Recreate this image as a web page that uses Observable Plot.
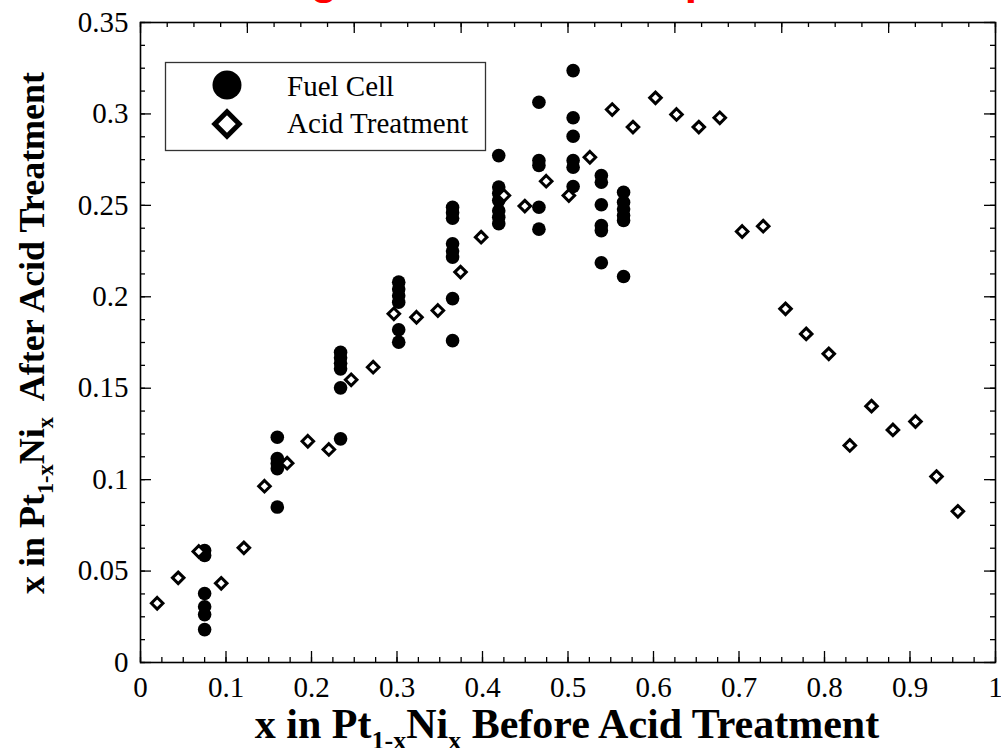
<!DOCTYPE html>
<html>
<head>
<meta charset="utf-8">
<script src="https://cdn.jsdelivr.net/npm/d3@7"></script>
<script src="https://cdn.jsdelivr.net/npm/@observablehq/plot@0.6"></script>
<style>
  html, body { margin: 0; padding: 0; background: white; }
  #chart { position: relative; width: 1001px; height: 748px; overflow: hidden; }
</style>
</head>
<body>
<div id="chart"></div>
<script>
// ---- data ----
const titleText = "Ni Leaching from Pt-Ni Nanoparticles";
const seriesNames = ["Fuel Cell", "Acid Treatment"];

// Fuel Cell: x before acid treatment, y after
const fuelX = [
  0.075, 0.075, 0.075, 0.075, 0.075, 0.075,
  0.160, 0.160, 0.160, 0.160, 0.160,
  0.234, 0.234, 0.234, 0.234, 0.234, 0.234,
  0.302, 0.302, 0.302, 0.302, 0.302, 0.302,
  0.365, 0.365, 0.365, 0.365, 0.365, 0.365, 0.365, 0.365,
  0.419, 0.419, 0.419, 0.419, 0.419, 0.419, 0.419,
  0.466, 0.466, 0.466, 0.466, 0.466,
  0.506, 0.506, 0.506, 0.506, 0.506, 0.506,
  0.539, 0.539, 0.539, 0.539, 0.539, 0.539,
  0.565, 0.565, 0.565, 0.565, 0.565, 0.565
];
const fuelY = [
  0.0612, 0.0585, 0.0377, 0.0305, 0.0262, 0.018,
  0.1232, 0.1115, 0.1088, 0.106, 0.085,
  0.1697, 0.1666, 0.1637, 0.1606, 0.1502, 0.1223,
  0.208, 0.2042, 0.2005, 0.197, 0.182, 0.1752,
  0.249, 0.246, 0.243, 0.229, 0.225, 0.2217, 0.199, 0.176,
  0.2772, 0.260, 0.2565, 0.2526, 0.247, 0.2435, 0.240,
  0.3064, 0.2745, 0.2718, 0.249, 0.237,
  0.3237, 0.2979, 0.2878, 0.2745, 0.2709, 0.2603,
  0.2663, 0.2627, 0.2503, 0.239, 0.2362, 0.2186,
  0.2572, 0.2517, 0.248, 0.2444, 0.2417, 0.2111
];

// Acid Treatment
const acidX = [
  0.0195, 0.0441, 0.0682, 0.0944, 0.1209, 0.145, 0.1715, 0.1957, 0.2203, 0.2464,
  0.2721, 0.2963, 0.3228, 0.3478, 0.3743, 0.3984, 0.425, 0.4495, 0.4745, 0.501,
  0.5256, 0.5517, 0.576, 0.6023, 0.6269, 0.653, 0.6775, 0.7037, 0.7283, 0.7544,
  0.7786, 0.805, 0.8296, 0.855, 0.880, 0.9064, 0.931, 0.956
];
const acidY = [
  0.0324, 0.0463, 0.0607, 0.0433, 0.0627, 0.0964, 0.109, 0.121, 0.1165, 0.1546,
  0.1615, 0.1907, 0.1888, 0.1925, 0.2135, 0.2326, 0.2554, 0.2496, 0.2632, 0.2554,
  0.2763, 0.3024, 0.2928, 0.3088, 0.2997, 0.2928, 0.2979, 0.2357, 0.2386, 0.1934,
  0.1797, 0.1688, 0.1187, 0.1402, 0.1272, 0.1318, 0.1017, 0.0827
];

// axis ticks
const xTickValues = [0, 0.1, 0.2, 0.3, 0.4, 0.5, 0.6, 0.7, 0.8, 0.9, 1];
const xTickLabels = ["0", "0.1", "0.2", "0.3", "0.4", "0.5", "0.6", "0.7", "0.8", "0.9", "1"];
const yTickValues = [0, 0.05, 0.1, 0.15, 0.2, 0.25, 0.3, 0.35];
const yTickLabels = ["0", "0.05", "0.1", "0.15", "0.2", "0.25", "0.3", "0.35"];
const xMinorBottom = d3.range(0, 41).map(i => i / 40);
const xMajorTop = d3.range(0, 9).map(i => i / 8);
const xMinorTop = d3.range(0, 33).map(i => i / 32);
const yMinor = d3.range(0, 29).map(i => i * 0.0125);

// ---- build ----
const W = 1001, H = 748;
const mL = 140, mR = 6, mT = 22, mB = 86;
const pw = W - mL - mR, ph = H - mT - mB;
const fuel = fuelX.map((x, i) => ({x, y: fuelY[i]}));
const acid = acidX.map((x, i) => ({x, y: acidY[i]}));
const serif = "'Liberation Serif', 'Times New Roman', serif";

const plot = Plot.plot({
  width: W, height: H,
  marginLeft: mL, marginRight: mR, marginTop: mT, marginBottom: mB,
  style: {fontFamily: serif, fontSize: "29px", color: "black", background: "white", overflow: "visible"},
  x: {domain: [0, 1]},
  y: {domain: [0, 0.35]},
  marks: [
    // tick marks (inward)
    Plot.tickX(xMinorBottom, {x: d => d, insetTop: ph - 5, stroke: "black", strokeWidth: 1.3}),
    Plot.tickX(xTickValues, {x: d => d, insetTop: ph - 11, stroke: "black", strokeWidth: 1.3}),
    Plot.tickX(xMinorTop, {x: d => d, insetBottom: ph - 5, stroke: "black", strokeWidth: 1.3}),
    Plot.tickX(xMajorTop, {x: d => d, insetBottom: ph - 11, stroke: "black", strokeWidth: 1.3}),
    Plot.tickY(yMinor, {y: d => d, insetRight: pw - 5, stroke: "black", strokeWidth: 1.3}),
    Plot.tickY(yTickValues, {y: d => d, insetRight: pw - 11, stroke: "black", strokeWidth: 1.3}),
    Plot.tickY(yMinor, {y: d => d, insetLeft: pw - 5, stroke: "black", strokeWidth: 1.3}),
    Plot.tickY(yTickValues, {y: d => d, insetLeft: pw - 11, stroke: "black", strokeWidth: 1.3}),
    Plot.axisX(xTickValues, {tickSize: 0, tickPadding: 14, tickFormat: (d, i) => xTickLabels[i], label: null}),
    Plot.axisY(yTickValues, {tickSize: 0, tickPadding: 12, tickFormat: (d, i) => yTickLabels[i], label: null}),
    Plot.frame({stroke: "black", strokeWidth: 1.6}),
    Plot.dot(fuel, {x: "x", y: "y", r: 6.8, fill: "black", stroke: "none"}),
    Plot.dot(acid, {x: "x", y: "y", r: 5.2, symbol: "diamond2", fill: "white", stroke: "black", strokeWidth: 3})
  ]
});

document.getElementById("chart").appendChild(plot);
const svg = d3.select(plot);

// title (mostly above the visible page, as in the reference)
svg.append("text")
  .attr("x", 477).attr("y", -6)
  .attr("text-anchor", "middle")
  .attr("fill", "red")
  .style("font-family", "'Liberation Sans', Arial, sans-serif")
  .style("font-weight", "bold")
  .style("font-size", "44px")
  .text(titleText);

// axis titles with subscripts
function axisTitle(g, before, after, size) {
  const t = g.append("text")
    .attr("text-anchor", "middle")
    .style("font-family", serif)
    .style("font-weight", "bold")
    .style("font-size", size + "px")
    .style("white-space", "pre")
    .attr("fill", "black");
  t.append("tspan").text(before);
  t.append("tspan").attr("dy", size * 0.25).style("font-size", (size * 0.62) + "px").text("1-x");
  t.append("tspan").attr("dy", -size * 0.25).text("Ni");
  t.append("tspan").attr("dy", size * 0.25).style("font-size", (size * 0.62) + "px").text("x");
  t.append("tspan").attr("dy", -size * 0.25).text(after);
  return t;
}
axisTitle(svg.append("g").attr("transform", "translate(567,738)"), "x in Pt", " Before Acid Treatment", 42);
axisTitle(svg.append("g").attr("transform", "translate(44,333) rotate(-90)"), "x in Pt", "  After Acid Treatment", 36);

// legend
const lg = svg.append("g");
lg.append("rect").attr("x", 165.5).attr("y", 62.5).attr("width", 320).attr("height", 88)
  .attr("fill", "white").attr("stroke", "#333").attr("stroke-width", 1.3);
lg.append("circle").attr("cx", 227).attr("cy", 85).attr("r", 14.5).attr("fill", "black");
lg.append("path").attr("d", d3.symbol(d3.symbolDiamond2, 380)()).attr("transform", "translate(227,124)")
  .attr("fill", "white").attr("stroke", "black").attr("stroke-width", 5);
seriesNames.forEach((name, i) => {
  lg.append("text").attr("x", 287).attr("y", i === 0 ? 96 : 133)
    .attr("text-anchor", "start")
    .style("font-family", serif)
    .style("font-size", "29px").attr("fill", "black").text(name);
});
</script>
</body>
</html>
